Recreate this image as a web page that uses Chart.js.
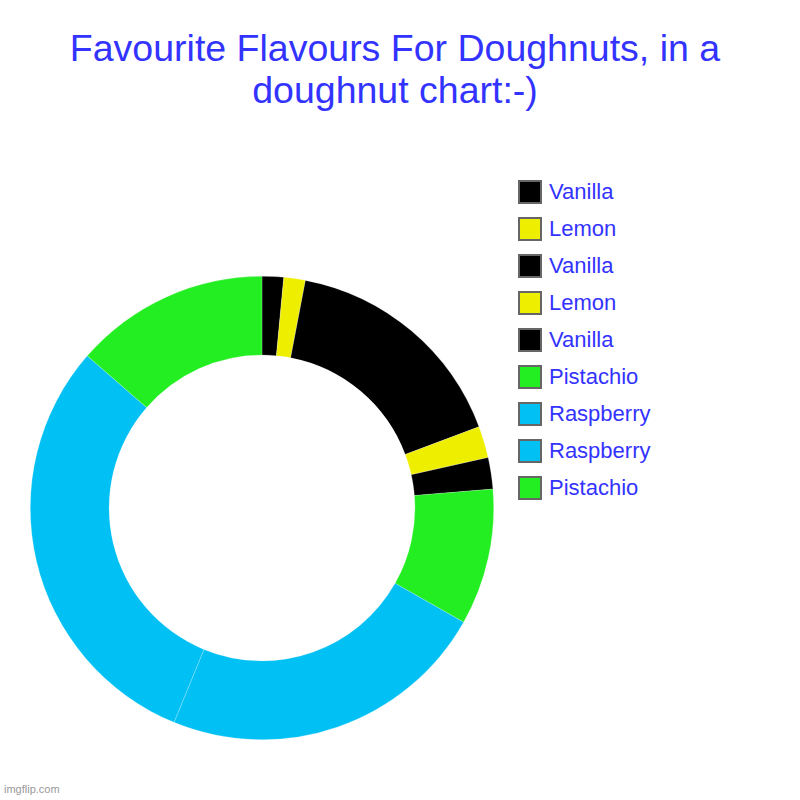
<!DOCTYPE html>
<html>
<head>
<meta charset="utf-8">
<script src="https://cdn.jsdelivr.net/npm/chart.js@4/dist/chart.umd.min.js"></script>
<style>
	html, body { margin: 0; padding: 0; background: #fff; }
	#page { position: relative; width: 800px; height: 800px; overflow: hidden; font-family: "Liberation Sans", Arial, sans-serif; }
	.chart-title { position: absolute; left: 0; top: 26.5px; width: 790px; text-align: center; color: #3333ff; font-size: 37.5px; line-height: 42px; white-space: nowrap; }
	.chart-canvas { position: absolute; left: 30px; top: 276px; width: 464px; height: 464px; }
	.chart-legend { position: absolute; left: 518px; top: 180px; margin: 0; padding: 0; list-style: none; }
	.chart-legend li { height: 24px; margin-bottom: 13px; white-space: nowrap; }
	.legend-icon { display: inline-block; box-sizing: border-box; width: 24px; height: 24px; border: 2px solid #666; vertical-align: top; }
	.legend-label { display: inline-block; margin-left: 7px; color: #3333ff; font-size: 22px; line-height: 24px; vertical-align: top; }
	.watermark { position: absolute; left: 4px; top: 783px; color: #999; font-size: 11px; }
</style>
</head>
<body>
<div id="page">
	<div class="chart-title">Favourite Flavours For Doughnuts, in a<br>doughnut chart:-)</div>
	<div class="chart-canvas"><canvas id="doughnut-chart" width="464" height="464"></canvas></div>
	<ul class="chart-legend" id="doughnut-legend"></ul>
	<div class="watermark">imgflip.com</div>
</div>
<script>
//slices, clockwise from the top
var flavours = ['Vanilla', 'Lemon', 'Vanilla', 'Lemon', 'Vanilla', 'Pistachio', 'Raspberry', 'Raspberry', 'Pistachio'];
var shares = [1.5, 1.5, 16.3, 2.2, 2.2, 9.5, 23, 30.2, 13.6];
var sliceColors = ['#000000', '#eeee00', '#000000', '#eeee00', '#000000', '#22ee22', '#00c0f4', '#00c0f4', '#22ee22'];

function build() {
	var options = {
		type: 'doughnut',
		data: {
			labels: flavours,
			datasets: [{
				data: shares,
				backgroundColor: sliceColors,
				borderWidth: 0.6,
				borderColor: 'rgba(255,255,255,0.35)'
			}]
		},
		options: {
			responsive: false,
			animation: false,
			cutout: '66%',
			plugins: {
				legend: { display: false },
				tooltip: { enabled: false },
				title: { display: false }
			}
		}
	};
	var context = document.getElementById('doughnut-chart').getContext('2d');
	new Chart(context, options);
	//creating legend
	createLegend();
}

function createLegend() {
	var legendBox = document.getElementById('doughnut-legend'),
		html = '';

	for ( var n = 0; n < flavours.length; n++ ) {
		html += '<li><span class="legend-icon" style="background-color: ' + sliceColors[n] + ';"></span><span class="legend-label">' + flavours[n] + '</span></li>';
	}
	legendBox.innerHTML = html;
}

build();
</script>
</body>
</html>
